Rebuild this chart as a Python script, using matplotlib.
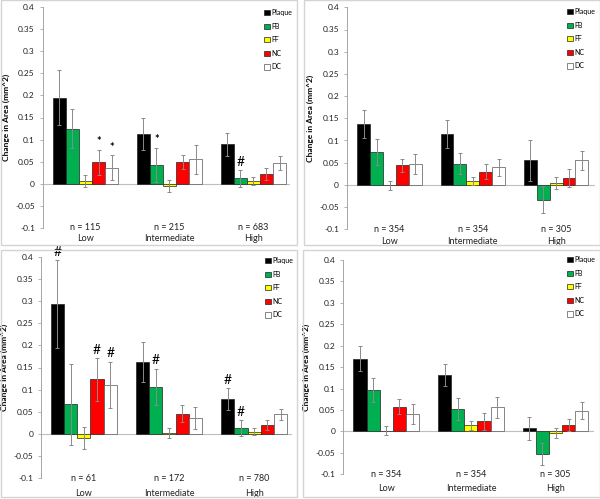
import matplotlib
matplotlib.use("Agg")
import matplotlib.pyplot as plt
from matplotlib.patches import Rectangle
import numpy as np

plt.rcParams['font.family'] = ['Lato', 'DejaVu Sans']

groups = ["Low", "Intermediate", "High"]
series = ["Plaque", "FB", "FF", "NC", "DC"]
colors = ["#000000", "#00B050", "#FFFF00", "#FF0000", "#FFFFFF"]

# Panel A (top-left)
a_counts = ["n = 115", "n = 215", "n = 683"]
a_vals = [[0.195, 0.112, 0.089],
          [0.125, 0.042, 0.012],
          [0.006, -0.005, 0.005],
          [0.048, 0.049, 0.022],
          [0.036, 0.055, 0.047]]
a_errs = [[0.063, 0.036, 0.026],
          [0.045, 0.039, 0.019],
          [0.013, 0.013, 0.009],
          [0.028, 0.016, 0.014],
          [0.028, 0.033, 0.015]]
a_marks = [(0, "NC", "*"), (0, "DC", "*"), (1, "FB", "*"), (2, "FB", "#")]

# Panel B (top-right)
b_counts = ["n = 354", "n = 354", "n = 305"]
b_vals = [[0.137, 0.115, 0.055],
          [0.074, 0.048, -0.033],
          [-0.001, 0.008, 0.004],
          [0.044, 0.030, 0.016],
          [0.047, 0.040, 0.055]]
b_errs = [[0.032, 0.031, 0.046],
          [0.029, 0.024, 0.030],
          [0.010, 0.009, 0.013],
          [0.015, 0.017, 0.020],
          [0.023, 0.019, 0.022]]
b_marks = []

# Panel C (bottom-left)
c_counts = ["n = 61", "n = 172", "n = 780"]
c_vals = [[0.293, 0.162, 0.079],
          [0.067, 0.106, 0.013],
          [-0.009, 0.002, 0.005],
          [0.123, 0.046, 0.020],
          [0.111, 0.036, 0.044]]
c_errs = [[0.099, 0.045, 0.024],
          [0.091, 0.041, 0.018],
          [0.025, 0.011, 0.008],
          [0.048, 0.020, 0.012],
          [0.052, 0.025, 0.013]]
c_marks = [(0, "Plaque", "#"), (0, "NC", "#"), (0, "DC", "#"),
           (1, "FB", "#"), (2, "Plaque", "#"), (2, "FB", "#")]

# Panel D (bottom-right)
d_counts = ["n = 354", "n = 354", "n = 305"]
d_vals = [[0.170, 0.132, 0.007],
          [0.096, 0.053, -0.053],
          [0.002, 0.014, -0.003],
          [0.058, 0.024, 0.015],
          [0.040, 0.056, 0.048]]
d_errs = [[0.029, 0.026, 0.026],
          [0.028, 0.026, 0.025],
          [0.011, 0.011, 0.012],
          [0.017, 0.020, 0.015],
          [0.023, 0.025, 0.020]]
d_marks = []

yticks = [0.4, 0.35, 0.3, 0.25, 0.2, 0.15, 0.1, 0.05, 0, -0.05, -0.1]
ytick_labels = ["0.4", "0.35", "0.3", "0.25", "0.2", "0.15", "0.1", "0.05", "0", "-0.05", "-0.1"]

W, H = 600, 499
fig = plt.figure(figsize=(W / 100, H / 100), dpi=100)

panels = [
    dict(vals=a_vals, errs=a_errs, counts=a_counts, marks=a_marks,
         ax_px=(42.5, 290, 7.3, 227.7), xlim=(-0.512, 2.435),
         box=(0.5, 0.5, 297, 245), leg=(264, 9), gap=11),
    dict(vals=b_vals, errs=b_errs, counts=b_counts, marks=b_marks,
         ax_px=(346.7, 595, 7.3, 229.3), xlim=(-0.514, 2.467),
         box=(304, 0.5, 599.5, 245), leg=(567, 8), gap=12),
    dict(vals=c_vals, errs=c_errs, counts=c_counts, marks=c_marks,
         ax_px=(41.3, 292, 256.7, 478.3), xlim=(-0.499, 2.444),
         box=(0.5, 250, 297, 497), leg=(265, 257), gap=15),
    dict(vals=d_vals, errs=d_errs, counts=d_counts, marks=d_marks,
         ax_px=(343.3, 594, 260, 474.3), xlim=(-0.508, 2.455),
         box=(303, 250, 599.5, 497), leg=(567, 256), gap=14),
]

bar_w = 0.155
x = np.arange(len(groups))
axis_gray = "#a6a6a6"

for p in panels:
    bx0, by0, bx1, by1 = p["box"]
    fig.add_artist(Rectangle((bx0 / W, 1 - by1 / H), (bx1 - bx0) / W, (by1 - by0) / H,
                             transform=fig.transFigure, fill=False,
                             edgecolor="#d4d4d4", linewidth=1.0))
    l, r, t, b = p["ax_px"]
    ax = fig.add_axes([l / W, 1 - b / H, (r - l) / W, (b - t) / H])
    ax.set_facecolor("none")
    handles = []
    for i, s in enumerate(series):
        xs = x + (i - 2) * bar_w
        h = ax.bar(xs, p["vals"][i], width=bar_w, color=colors[i],
                   edgecolor="#222222" if i != 4 else "#555555", linewidth=0.5,
                   label=s, zorder=2)
        ax.errorbar(xs, p["vals"][i], yerr=p["errs"][i], fmt="none",
                    ecolor="#8a8a8a", elinewidth=0.7, capsize=1.2, capthick=0.7,
                    zorder=3)
        handles.append(h)
    for g, s, sym in p["marks"]:
        i = series.index(s)
        top = p["vals"][i][g] + p["errs"][i][g]
        ax.text(x[g] + (i - 2) * bar_w, top + 0.019, sym, ha="center", va="center",
                fontsize=10 if sym == "#" else 8, fontweight="bold" if sym == "*" else "normal",
                clip_on=False, zorder=4)
    ax.axhline(0, color="#bfbfbf", linewidth=0.8, zorder=1)
    ax.set_ylim(-0.1, 0.4)
    ax.set_xlim(*p["xlim"])
    ax.set_yticks(yticks)
    ax.set_yticklabels(ytick_labels)
    ax.tick_params(axis="y", labelsize=6, length=2.5, width=0.6, color=axis_gray,
                   pad=3, labelcolor="#222222")
    ax.set_xticks([])
    for side in ["top", "right", "bottom"]:
        ax.spines[side].set_visible(False)
    ax.spines["left"].set_color(axis_gray)
    ax.spines["left"].set_linewidth(0.7)
    ax.set_ylabel("Change in Area (mm^2)", fontsize=6, fontweight="bold", labelpad=4)
    for g in range(len(groups)):
        ax.annotate(p["counts"][g], xy=(x[g], 0), xycoords=("data", "axes fraction"),
                    ha="center", va="center", fontsize=6.5, color="#222222",
                    annotation_clip=False)
        ax.annotate(groups[g], xy=(x[g], 0), xycoords=("data", "axes fraction"),
                    xytext=(0, -p["gap"] * 0.72), textcoords="offset points",
                    ha="center", va="center", fontsize=6.5, color="#222222",
                    annotation_clip=False)
    lx, ly = p["leg"]
    ax.legend(handles=handles, loc="upper left", bbox_to_anchor=(lx / W, 1 - ly / H),
              bbox_transform=fig.transFigure, frameon=False, fontsize=5,
              handlelength=0.8, handleheight=0.8, handletextpad=0.3,
              labelspacing=0.95, borderpad=0, borderaxespad=0)

fig.savefig("out.png", dpi=100)
